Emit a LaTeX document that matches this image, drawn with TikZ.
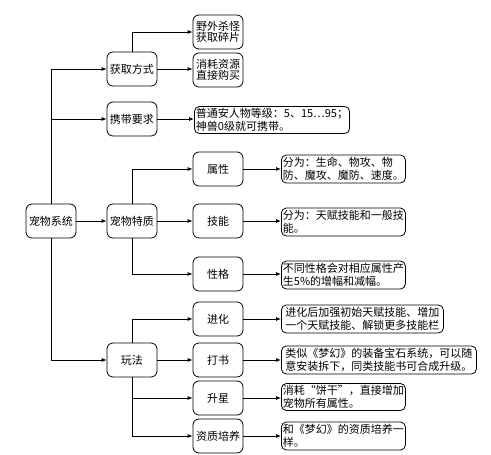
\documentclass[tikz,border=0pt]{standalone}
\usepackage{fontspec}
\setmainfont{Noto Sans CJK SC}
\usetikzlibrary{arrows.meta}
\definecolor{inkline}{RGB}{0,0,0}
\definecolor{paperbg}{RGB}{255,255,255}

\tikzset{
    topic/.style={draw=inkline, line width=0.8pt, rounded corners=6pt, minimum width=50pt, minimum height=34pt, inner sep=1pt, font=\fontsize{11}{12.5}\selectfont},
    note/.style={draw=inkline, line width=0.8pt, rounded corners=5pt, anchor=west, align=left, inner sep=1.5pt, minimum height=28pt, font=\fontsize{11}{12.5}\selectfont},
    link/.style={draw=inkline, line width=0.8pt, -{Latex[length=5pt,width=4pt]}}
}

\begin{document}
\begin{tikzpicture}[x=1pt, y=-1pt]
    \useasboundingbox[fill=paperbg] (0,0) rectangle (491,455);

    % 1. Root and first level
    \node[topic] (root)  at (51,221)  {宠物系统};
    \node[topic] (get)   at (132,69)  {获取方式};
    \node[topic] (carry) at (132,119) {携带要求};
    \node[topic] (trait) at (132,221) {宠物特质};
    \node[topic] (play)  at (132,360) {玩法};

    % 2. Second level
    \node[topic, align=center] (kill) at (218,32) {野外杀怪\\[-1pt]获取碎片};
    \node[topic, align=center] (buy)  at (218,70) {消耗资源\\[-1pt]直接购买};
    \node[topic] (attr)   at (218,169) {属性};
    \node[topic] (skill)  at (218,221) {技能};
    \node[topic] (nature) at (218,274) {性格};
    \node[topic] (evolve) at (218,319) {进化};
    \node[topic] (book)   at (218,360) {打书};
    \node[topic] (star)   at (218,398) {升星};
    \node[topic] (apt)    at (218,436) {资质培养};

    % 3. Notes
    \node[note, minimum width=155pt, minimum height=27pt] (carryd) at (194,120) {普通安人物等级：5、15⋯95；\\神兽0级就可携带。};
    \node[note, minimum width=122pt] (attrd)   at (281,169) {分为：生命、物攻、物\\防、魔攻、魔防、速度。};
    \node[note, minimum width=122pt] (skilld)  at (281,222) {分为：天赋技能和一般技\\能。};
    \node[note, minimum width=122pt] (natured) at (281,275) {不同性格会对相应属性产\\生5\%的增幅和减幅。};
    \node[note, minimum width=162pt] (evolved) at (281,319) {进化后加强初始天赋技能、增加\\一个天赋技能、解锁更多技能栏};
    \node[note, minimum width=195pt] (bookd)   at (281,360) {类似《梦幻》的装备宝石系统，可以随\\意安装拆下，同类技能书可合成升级。};
    \node[note, minimum width=122pt, minimum height=27pt] (stard) at (281,397) {消耗“饼干”，直接增加\\宠物所有属性。};
    \node[note, minimum width=122pt] (aptd)    at (281,436) {和《梦幻》的资质培养一\\样。};

    % 4. Connectors
    \draw[link] (root.north) |- (get.west);
    \draw[link] (root.north) |- (carry.west);
    \draw[link] (root.east) -- (trait.west);
    \draw[link] (root.south) |- (play.west);

    \draw[link] (get.north) |- (kill.west);
    \draw[link] (get.east) -- (buy.west |- get.east);
    \draw[link] (carry.east) -- (carryd.west |- carry.east);

    \draw[link] (trait.north) |- (attr.west);
    \draw[link] (trait.east) -- (skill.west);
    \draw[link] (trait.south) |- (nature.west);

    \draw[link] (play.north) |- (evolve.west);
    \draw[link] (play.east) -- (book.west);
    \draw[link] (play.south) |- (star.west);
    \draw[link] (play.south) |- (apt.west);

    \foreach \a/\b in {attr/attrd, skill/skilld, nature/natured, evolve/evolved, book/bookd, star/stard, apt/aptd} {
        \draw[link] (\a.east) -- (\b.west |- \a.east);
    }

\end{tikzpicture}
\end{document}
